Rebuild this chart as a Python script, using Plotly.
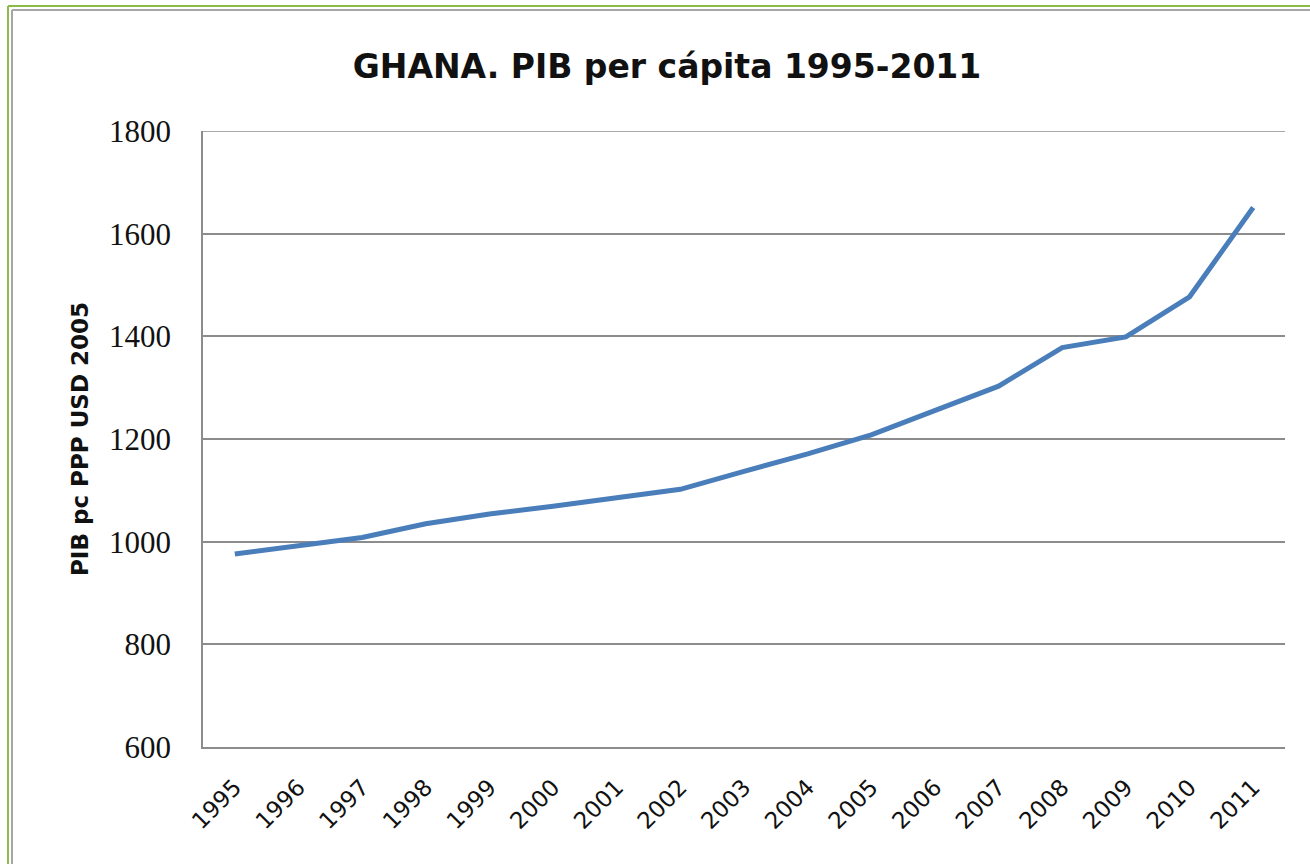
import plotly.graph_objects as go

years = ["1995", "1996", "1997", "1998", "1999", "2000", "2001", "2002", "2003",
         "2004", "2005", "2006", "2007", "2008", "2009", "2010", "2011"]
pib_pc = [976, 992, 1008, 1035, 1054, 1069, 1085, 1102, 1137,
          1171, 1208, 1255, 1303, 1378, 1399, 1477, 1651]
y_ticks = [600, 800, 1000, 1200, 1400, 1600, 1800]

W, H = 1310, 864
L, R, T, B = 203, 1285, 131, 747


def px(xp):
    return (xp - L) / (R - L)


def py(yp):
    return (B - yp) / (B - T)


fig = go.Figure()
fig.add_trace(go.Scatter(
    x=years, y=pib_pc, mode="lines",
    line=dict(color="#4a7ebb", width=5),
    showlegend=False,
))

grid = "#8c8c8c"
fig.update_layout(
    width=W, height=H,
    margin=dict(l=L, r=W - R, t=T, b=H - B, pad=0),
    paper_bgcolor="white", plot_bgcolor="white",
    title=dict(text="<b>GHANA. PIB per cápita 1995-2011</b>",
               x=667 / W, xanchor="center", y=1 - 66 / H,
               yanchor="middle", xref="container", yref="container",
               font=dict(family="DejaVu Sans", size=33, color="#111111")),
    xaxis=dict(type="category", range=[-0.5, 16.5], showgrid=False,
               showline=True, linecolor=grid, linewidth=1.5, ticks="",
               tickangle=-45, ticklabelstandoff=16,
               tickfont=dict(family="DejaVu Sans", size=23, color="#111111"),
               zeroline=False),
    yaxis=dict(range=[600, 1800], tickvals=y_ticks, showgrid=True,
               gridcolor=grid, gridwidth=1.5, showline=True, linecolor=grid,
               linewidth=1.5, ticks="", ticklabelstandoff=24,
               tickfont=dict(family="Liberation Serif", size=31, color="#111111"),
               zeroline=False),
    annotations=[dict(text="<b>PIB pc PPP USD 2005</b>", textangle=-90,
                      x=px(80), y=0.5, xref="paper", yref="paper",
                      xanchor="center", yanchor="middle", showarrow=False,
                      font=dict(family="DejaVu Sans", size=23, color="#111111"))],
    shapes=[
        dict(type="line", xref="paper", yref="y", x0=0, x1=1,
             y0=y_ticks[-1], y1=y_ticks[-1], line=dict(color=grid, width=1.5)),
        dict(type="line", xref="paper", yref="paper", x0=px(8), x1=px(1330),
             y0=py(6), y1=py(6), line=dict(color="#8dbb48", width=2)),
        dict(type="line", xref="paper", yref="paper", x0=px(8), x1=px(8),
             y0=py(6), y1=py(890), line=dict(color="#8dbb48", width=2)),
        dict(type="line", xref="paper", yref="paper", x0=px(12), x1=px(1330),
             y0=py(10), y1=py(10), line=dict(color="#a6a6a6", width=2)),
        dict(type="line", xref="paper", yref="paper", x0=px(12), x1=px(12),
             y0=py(10), y1=py(890), line=dict(color="#a6a6a6", width=2)),
    ],
)

fig.write_html("out.html",
               config={"displayModeBar": False},
               post_script="document.body.style.margin='0';"
                           "document.body.style.overflow='hidden';")
